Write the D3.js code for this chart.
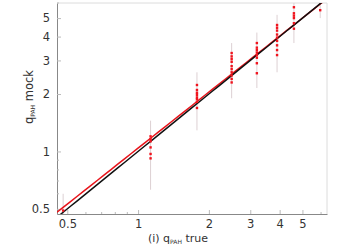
<!DOCTYPE html>
<html>
<head>
<meta charset="utf-8">
<script src="https://cdn.jsdelivr.net/npm/d3@7"></script>
<style>
  body { margin: 0; background: white; }
  svg { display: block; font-family: "DejaVu Sans", sans-serif; }
</style>
</head>
<body>
<svg></svg>
<script>
let width = 354, height = 250;

// true values of each group and its mock values
let trueVals = [0.48, 1.13, 1.78, 2.5, 3.2, 3.9, 4.6, 5.95];
let mockVals = [
    [0.49],
    [1.2, 1.16, 1.13, 1.05, 0.97, 0.92],
    [2.23, 2.1, 2.03, 1.98, 1.92, 1.88, 1.82, 1.69],
    [3.28, 3.15, 3.05, 2.95, 2.8, 2.7, 2.6, 2.5, 2.4, 2.3],
    [3.7, 3.5, 3.4, 3.3, 3.2, 3.1, 2.9, 2.57],
    [4.6, 4.45, 4.3, 4.1, 3.95, 3.8, 3.6, 3.4, 3.2],
    [5.7, 5.3, 5.15, 5.0, 4.7, 4.4],
    [5.5]
];
let errLow = [0.44, 0.63, 1.29, 1.9, 2.15, 2.6, 3.7, 5.0];
let errHigh = [0.6, 1.45, 2.6, 3.7, 4.2, 5.2, 6.0, 6.0];

let tickVals = [0.5, 1, 2, 3, 4, 5];
let minorVals = [0.6, 0.7, 0.8, 0.9, 6];

// fit line  y = fitPivot * (x / fitPivot) ^ fitSlope
let fitPivot = 5, fitSlope = 0.975;

let margin = {left: 57, right: 27, top: 3, bottom: 36};

let svg = d3.select("svg")
    .attr("width", width)
    .attr("height", height);

let x = d3.scaleLog()
    .domain([0.452, 6.36])
    .range([margin.left, width - margin.right]);

let y = d3.scaleLog()
    .domain([0.47, 6.0])
    .range([height - margin.bottom, margin.top]);

svg.append("defs").append("clipPath")
    .attr("id", "plot")
    .append("rect")
    .attr("x", margin.left)
    .attr("y", margin.top)
    .attr("width", width - margin.left - margin.right)
    .attr("height", height - margin.top - margin.bottom);

// frame (top + right light)
svg.append("path")
    .attr("d", "M" + x.range()[0] + "," + y.range()[1] + "H" + x.range()[1] + "V" + y.range()[0])
    .attr("fill", "none")
    .attr("stroke", "#dcdcdc");

// x axis
let xAxis = svg.append("g")
    .attr("transform", "translate(0," + y.range()[0] + ")")
    .call(d3.axisBottom(x).tickValues(tickVals).tickFormat(d3.format("")).tickSizeInner(-4).tickSizeOuter(0).tickPadding(6));
xAxis.append("g").selectAll("line")
    .data(minorVals)
    .enter().append("line")
    .attr("x1", d => x(d)).attr("x2", d => x(d))
    .attr("y1", 0).attr("y2", -2)
    .attr("stroke", "#bbb");

// y axis
let yAxis = svg.append("g")
    .attr("transform", "translate(" + x.range()[0] + ",0)")
    .call(d3.axisLeft(y).tickValues(tickVals).tickFormat(d3.format("")).tickSizeInner(-4).tickSizeOuter(0).tickPadding(7));
yAxis.append("g").selectAll("line")
    .data(minorVals)
    .enter().append("line")
    .attr("y1", d => y(d)).attr("y2", d => y(d))
    .attr("x1", 0).attr("x2", 2)
    .attr("stroke", "#bbb");

svg.selectAll(".domain").attr("stroke", "#888");
svg.selectAll(".tick line").attr("stroke", "#bbb");
svg.selectAll(".tick text")
    .attr("font-family", "DejaVu Sans")
    .attr("font-size", 11.5)
    .attr("fill", "#333");

let plot = svg.append("g").attr("clip-path", "url(#plot)");

// error bars
plot.append("g").selectAll("line")
    .data(trueVals)
    .enter().append("line")
    .attr("x1", d => x(d)).attr("x2", d => x(d))
    .attr("y1", (d, i) => y(errLow[i]))
    .attr("y2", (d, i) => y(errHigh[i]))
    .attr("stroke", "#ddd0d3")
    .attr("stroke-width", 1);

// fit line (red) and 1:1 line (black)
let xs = d3.range(0, 41).map(i => x.invert(x.range()[0] + i * (x.range()[1] - x.range()[0]) / 40));
plot.append("path")
    .datum(xs)
    .attr("fill", "none")
    .attr("stroke", "#e8141b")
    .attr("stroke-width", 1.5)
    .attr("d", d3.line().x(d => x(d)).y(d => y(fitPivot * Math.pow(d / fitPivot, fitSlope))));

plot.append("path")
    .datum(xs)
    .attr("fill", "none")
    .attr("stroke", "#111")
    .attr("stroke-width", 1.5)
    .attr("d", d3.line().x(d => x(d)).y(d => y(d)));

// points
let pts = [];
trueVals.forEach((t, i) => mockVals[i].forEach(m => pts.push({t: t, m: m})));
plot.append("g").selectAll("rect")
    .data(pts)
    .enter().append("rect")
    .attr("x", d => x(d.t) - 1.2)
    .attr("y", d => y(d.m) - 1.2)
    .attr("width", 2.4)
    .attr("height", 2.4)
    .attr("fill", "#f0141e");

// axis labels
let xl = svg.append("text")
    .attr("x", 178)
    .attr("y", 242)
    .attr("text-anchor", "middle")
    .attr("font-size", 11)
    .attr("fill", "#333");
xl.append("tspan").text("(i) q");
xl.append("tspan").attr("font-size", 6).attr("dy", 2).text("PAH");
xl.append("tspan").attr("dy", -2).text(" true");

let yl = svg.append("text")
    .attr("transform", "translate(33,97) rotate(-90)")
    .attr("text-anchor", "middle")
    .attr("font-size", 11.5)
    .attr("fill", "#333");
yl.append("tspan").text("q");
yl.append("tspan").attr("font-size", 6).attr("dy", 2).text("PAH");
yl.append("tspan").attr("dy", -2).text(" mock");
</script>
</body>
</html>
